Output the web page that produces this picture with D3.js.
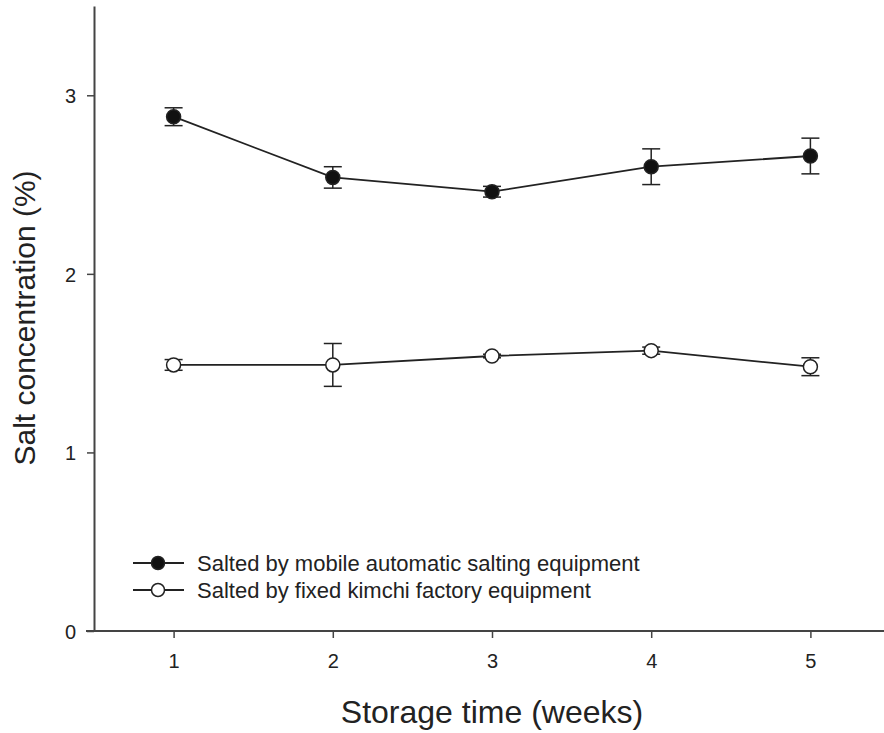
<!DOCTYPE html>
<html>
<head>
<meta charset="utf-8">
<script src="https://cdn.jsdelivr.net/npm/d3@7"></script>
<style>
  body { margin: 0; background: #fff; }
  text { font-family: "Liberation Sans", Arial, sans-serif; fill: #222; }
</style>
</head>
<body>
<div id="chart"></div>
<script>
// Data
const weeks = [1, 2, 3, 4, 5];
const mobileMean = [2.88, 2.54, 2.46, 2.60, 2.66];
const mobileErr = [0.05, 0.06, 0.03, 0.10, 0.10];
const fixedMean = [1.49, 1.49, 1.54, 1.57, 1.48];
const fixedErr = [0.03, 0.12, 0.01, 0.02, 0.05];
const seriesNames = ["Salted by mobile automatic salting equipment", "Salted by fixed kimchi factory equipment"];
const yTicks = [0, 1, 2, 3];

const W = 884, H = 733;

const svg = d3.select("#chart")
    .append("svg")
    .attr("width", W)
    .attr("height", H);

// Scales
const x = d3.scaleLinear().domain([0.5, 5.5]).range([94, 890]);
const y = d3.scaleLinear().domain([0, 3.5]).range([631, 6]);

// Axes
const xAxis = svg.append("g")
    .attr("transform", `translate(0,${y(0)})`)
    .call(d3.axisBottom(x).tickValues(weeks).tickFormat(d3.format("d"))
        .tickSize(7).tickSizeOuter(0).tickPadding(16));
xAxis.select(".domain").attr("d", `M${x(0.5) - 8},0H${x(5.5)}`);

const yAxis = svg.append("g")
    .attr("transform", `translate(${x(0.5)},0)`)
    .call(d3.axisLeft(y).tickValues(yTicks).tickFormat(d3.format("d"))
        .tickSize(7).tickSizeOuter(0).tickPadding(11));

svg.selectAll(".domain").attr("stroke", "#444").attr("stroke-width", 2);
svg.selectAll(".tick line").attr("stroke", "#444").attr("stroke-width", 1.5);
svg.selectAll(".tick text")
    .style("font-size", "20px")
    .style("font-family", "'Liberation Sans', Arial, sans-serif")
    .attr("fill", "#222");
yAxis.selectAll(".tick text").attr("dy", "0.36em");

// Axis labels
svg.append("text")
    .attr("x", 492)
    .attr("y", 723)
    .attr("text-anchor", "middle")
    .attr("font-size", 32)
    .text("Storage time (weeks)");

svg.append("text")
    .attr("transform", `translate(35,318) rotate(-90)`)
    .attr("text-anchor", "middle")
    .attr("font-size", 30)
    .text("Salt concentration (%)");

// Series
const series = [
    {mean: mobileMean, err: mobileErr, fill: "#111"},
    {mean: fixedMean, err: fixedErr, fill: "#fff"}
];

const line = d3.line()
    .x((d, i) => x(weeks[i]))
    .y(d => y(d));

series.forEach(s => {
    svg.append("path")
        .attr("d", line(s.mean))
        .attr("fill", "none")
        .attr("stroke", "#222")
        .attr("stroke-width", 1.8);

    const g = svg.append("g");
    weeks.forEach((w, i) => {
        const cx = x(w);
        const top = y(s.mean[i] + s.err[i]);
        const bot = y(s.mean[i] - s.err[i]);
        g.append("line").attr("x1", cx).attr("x2", cx).attr("y1", top).attr("y2", bot)
            .attr("stroke", "#222").attr("stroke-width", 1.5);
        [top, bot].forEach(yy => {
            g.append("line").attr("x1", cx - 9).attr("x2", cx + 9).attr("y1", yy).attr("y2", yy)
                .attr("stroke", "#222").attr("stroke-width", 1.5);
        });
    });

    g.selectAll("circle")
        .data(s.mean)
        .enter()
        .append("circle")
        .attr("cx", (d, i) => x(weeks[i]))
        .attr("cy", d => y(d))
        .attr("r", 7)
        .attr("fill", s.fill)
        .attr("stroke", "#222")
        .attr("stroke-width", 1.5);
});

// Legend
const legend = svg.append("g");
seriesNames.forEach((name, i) => {
    const ly = 563 + i * 27;
    legend.append("line").attr("x1", 133).attr("x2", 184).attr("y1", ly).attr("y2", ly)
        .attr("stroke", "#222").attr("stroke-width", 1.8);
    legend.append("circle").attr("cx", 158).attr("cy", ly).attr("r", 6.5)
        .attr("fill", series[i].fill).attr("stroke", "#222").attr("stroke-width", 1.5);
    legend.append("text")
        .attr("x", 197)
        .attr("y", ly + 7.5)
        .attr("font-size", 22)
        .text(name);
});
</script>
</body>
</html>
